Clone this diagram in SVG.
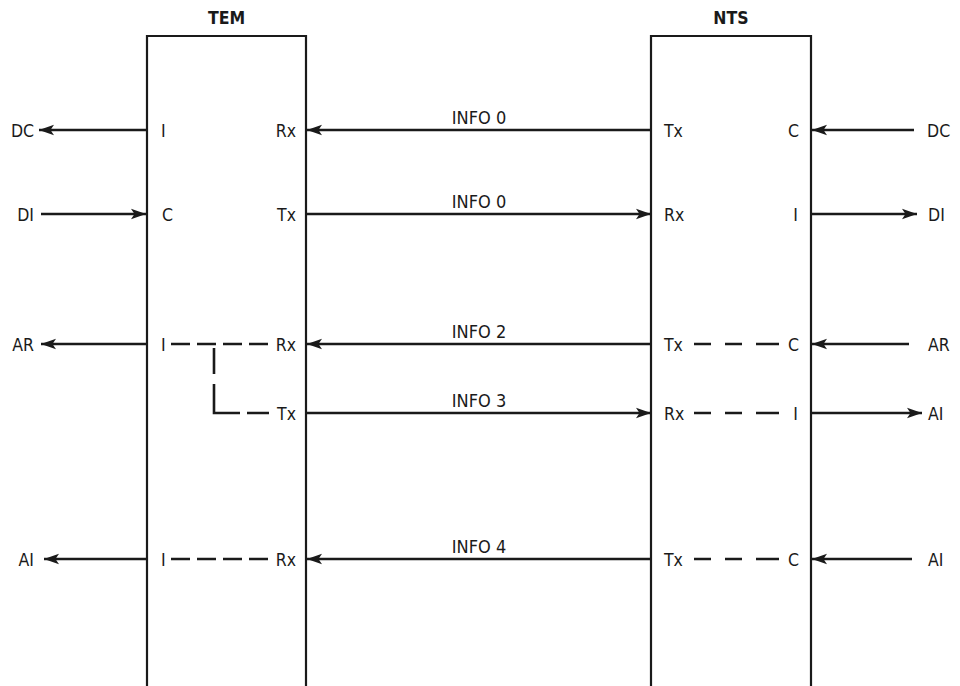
<svg xmlns="http://www.w3.org/2000/svg" width="960" height="686" viewBox="0 0 960 686">
<style>
text{font-family:"DejaVu Sans Condensed","DejaVu Sans",sans-serif;font-stretch:condensed;font-size:17.5px;fill:#1a1a1a}
.t{font-weight:bold;text-anchor:middle;font-size:17.5px}
.i{text-anchor:middle;font-size:18px}
.e{text-anchor:end}
.box{fill:none;stroke:#1a1a1a;stroke-width:2.2}
.ln{fill:none;stroke:#1a1a1a;stroke-width:2.5}
.d{fill:none;stroke:#1a1a1a;stroke-width:2.6}
.dl{stroke-dasharray:19,7}
.dr{stroke-dasharray:17,14,17,14,23}
</style>
<defs>
<marker id="ah" markerWidth="16" markerHeight="12" refX="15" refY="6" orient="auto" markerUnits="userSpaceOnUse">
<path d="M0,0.8 L15,6 L0,11.2 L3.5,6 Z" fill="#1a1a1a"/>
</marker>
</defs>
<rect width="960" height="686" fill="#fff"/>
<g id="TEM">
<path class="box" d="M147,690 V36 H306 V690"/>
<text class="t" x="226.5" y="24">TEM</text>
<text x="161" y="137">I</text>
<text class="e" x="296" y="137">Rx</text>
<text x="162" y="221">C</text>
<text class="e" x="296" y="221">Tx</text>
<text x="161" y="351">I</text>
<text class="e" x="296" y="351">Rx</text>
<text class="e" x="296" y="420">Tx</text>
<text x="161" y="566">I</text>
<text class="e" x="296" y="566">Rx</text>
</g>
<g id="NTS">
<path class="box" d="M651,690 V36 H811 V690"/>
<text class="t" x="731" y="24">NTS</text>
<text x="664" y="137">Tx</text>
<text class="e" x="799" y="137">C</text>
<text x="664" y="221">Rx</text>
<text class="e" x="798" y="221">I</text>
<text x="664" y="351">Tx</text>
<text class="e" x="799" y="351">C</text>
<text x="664" y="420">Rx</text>
<text class="e" x="798" y="420">I</text>
<text x="664" y="566">Tx</text>
<text class="e" x="799" y="566">C</text>
</g>
<g id="left-signals">
<text class="e" x="34" y="137">DC</text>
<text class="e" x="34" y="221">DI</text>
<text class="e" x="34" y="351">AR</text>
<text class="e" x="34" y="566">AI</text>
</g>
<g id="right-signals">
<text x="927" y="137">DC</text>
<text x="928" y="221">DI</text>
<text x="928" y="351">AR</text>
<text x="928" y="420">AI</text>
<text x="928" y="566">AI</text>
</g>
<g id="connectors">
<line class="ln" x1="146" y1="130" x2="39" y2="130" marker-end="url(#ah)"/>
<line class="ln" x1="41" y1="214" x2="146" y2="214" marker-end="url(#ah)"/>
<line class="ln" x1="146" y1="344" x2="41" y2="344" marker-end="url(#ah)"/>
<line class="ln" x1="146" y1="559" x2="44" y2="559" marker-end="url(#ah)"/>
<line class="ln" x1="914" y1="130" x2="812" y2="130" marker-end="url(#ah)"/>
<line class="ln" x1="812" y1="214" x2="917" y2="214" marker-end="url(#ah)"/>
<line class="ln" x1="909" y1="344" x2="812" y2="344" marker-end="url(#ah)"/>
<line class="ln" x1="812" y1="413" x2="922" y2="413" marker-end="url(#ah)"/>
<line class="ln" x1="912" y1="559" x2="812" y2="559" marker-end="url(#ah)"/>
<line class="ln" x1="651" y1="130" x2="307" y2="130" marker-end="url(#ah)"/>
<line class="ln" x1="307" y1="214" x2="651" y2="214" marker-end="url(#ah)"/>
<line class="ln" x1="651" y1="344" x2="307" y2="344" marker-end="url(#ah)"/>
<line class="ln" x1="307" y1="413" x2="651" y2="413" marker-end="url(#ah)"/>
<line class="ln" x1="651" y1="559" x2="307" y2="559" marker-end="url(#ah)"/>
<text class="i" x="479" y="124">INFO 0</text>
<text class="i" x="479" y="208">INFO 0</text>
<text class="i" x="479" y="338">INFO 2</text>
<text class="i" x="479" y="407">INFO 3</text>
<text class="i" x="479" y="553">INFO 4</text>
<path class="d dl" d="M171,344 H268"/>
<path class="d" d="M214,348 V413 H269" style="stroke-dasharray:26,10,55,7,22"/>
<path class="d dl" d="M171,559 H268"/>
<path class="d dr" d="M694,344 H779"/>
<path class="d dr" d="M694,413 H779"/>
<path class="d dr" d="M694,559 H779"/>
</g>
</svg>
